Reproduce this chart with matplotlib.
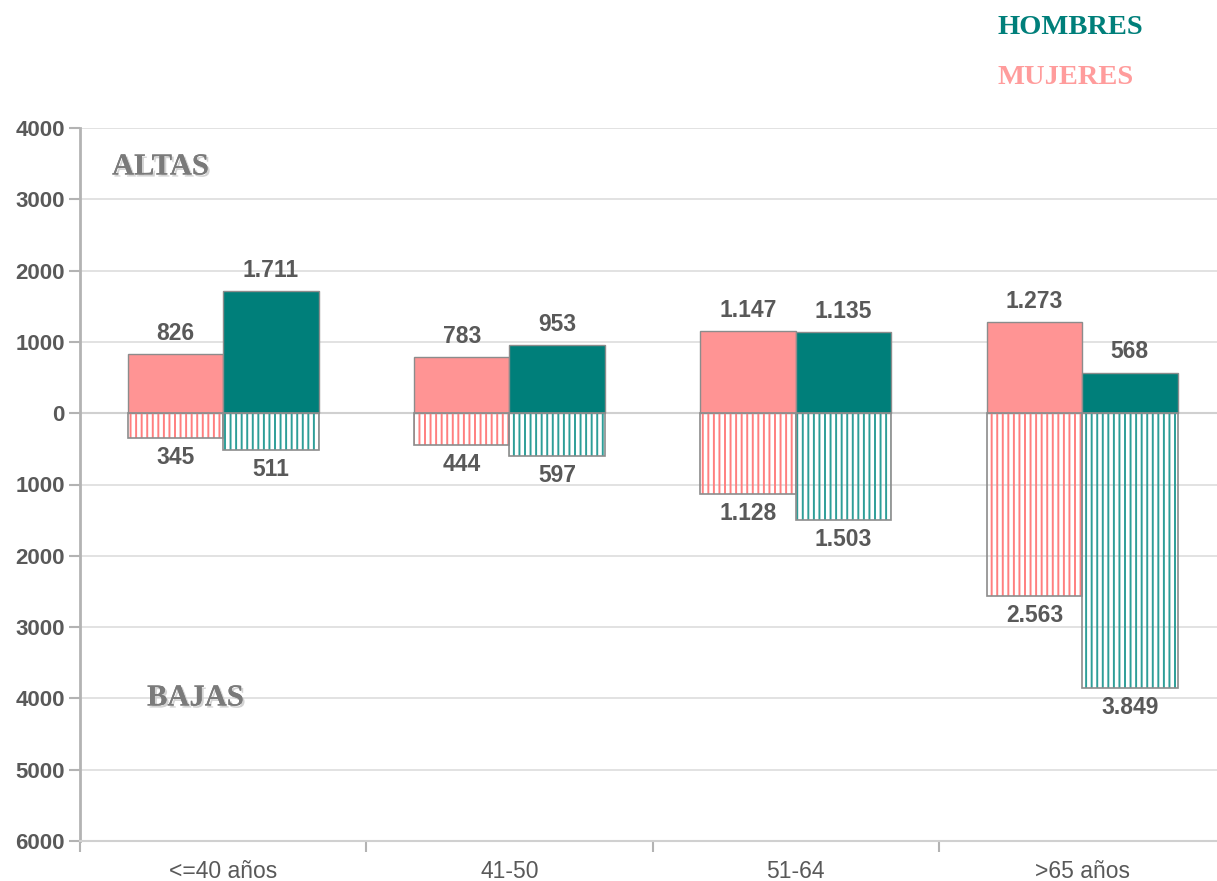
import numpy as np
import matplotlib.pyplot as plt
import matplotlib.patheffects as pe

# data
categories = ['<=40 años', '41-50', '51-64', '>65 años']
altas_mujeres = [826, 783, 1147, 1273]
altas_hombres = [1711, 953, 1135, 568]
bajas_mujeres = [345, 444, 1128, 2563]
bajas_hombres = [511, 597, 1503, 3849]
yticks = [4000, 3000, 2000, 1000, 0, -1000, -2000, -3000, -4000, -5000, -6000]

PINK = '#ff9494'
TEAL = '#007f7a'
GREY_TXT = '#595959'
plt.rcParams['hatch.linewidth'] = 1.4

def fmt(n):
	return '{:,}'.format(n).replace(',', '.')

fig = plt.figure(figsize=(12.17, 8.81), dpi=100)
ax = fig.add_axes([80/1217, 40/881, (1217-80)/1217, (841-128)/881])

x = np.arange(len(categories))
w = 1/3.

# altas (solid)
ax.bar(x - w/2, altas_mujeres, w, color=PINK, edgecolor='#8c8c8c', linewidth=1, zorder=3)
ax.bar(x + w/2, altas_hombres, w, color=TEAL, edgecolor='#8c8c8c', linewidth=1, zorder=3)

# bajas (hatched, transparent)
neg_m = [-v for v in bajas_mujeres]
neg_h = [-v for v in bajas_hombres]
ax.bar(x - w/2, neg_m, w, fill=False, hatch='|||', edgecolor='#ff7f7f', linewidth=0, zorder=3)
ax.bar(x + w/2, neg_h, w, fill=False, hatch='|||', edgecolor='#2e9e98', linewidth=0, zorder=3)
ax.bar(x - w/2, neg_m, w, fill=False, edgecolor='#8c8c8c', linewidth=1.2, zorder=4)
ax.bar(x + w/2, neg_h, w, fill=False, edgecolor='#8c8c8c', linewidth=1.2, zorder=4)

# value labels
lbl = dict(ha='center', va='center', fontsize=16.5, fontweight='bold', color=GREY_TXT,
	family='Liberation Sans', textcoords='offset points')
for i in range(len(categories)):
	ax.annotate(fmt(altas_mujeres[i]), (x[i] - w/2, altas_mujeres[i]), xytext=(0, 15), **lbl)
	ax.annotate(fmt(altas_hombres[i]), (x[i] + w/2, altas_hombres[i]), xytext=(0, 15), **lbl)
	ax.annotate(fmt(bajas_mujeres[i]), (x[i] - w/2, -bajas_mujeres[i]), xytext=(0, -14), **lbl)
	ax.annotate(fmt(bajas_hombres[i]), (x[i] + w/2, -bajas_hombres[i]), xytext=(0, -14), **lbl)

ax.set_yticks(yticks)
ax.set_yticklabels([str(abs(t)) for t in yticks], fontsize=16, fontweight='bold',
	color=GREY_TXT, family='Liberation Sans')
ax.set_xticks(x)
ax.set_xticklabels(categories, fontsize=16.5, color=GREY_TXT, family='Liberation Sans')
ax.set_xticks(np.arange(len(categories) + 1) - 0.5, minor=True)
ax.set_ylim(-6000, 4000)
ax.set_xlim(-0.5, 3.471)
ax.tick_params(axis='x', which='major', length=0, pad=14)
ax.tick_params(axis='x', which='minor', length=8, color='#b3b3b3', width=1.5)
ax.tick_params(axis='y', length=8, color='#b3b3b3', width=1.5, pad=3)

ax.grid(axis='y', color='#dddddd', linewidth=1.2, zorder=0)
ax.set_axisbelow(True)
for s in ['top', 'right']:
	ax.spines[s].set_visible(False)
ax.spines['left'].set_color('#b3b3b3')
ax.spines['left'].set_linewidth(2)
ax.spines['bottom'].set_color('#d0d0d0')
ax.spines['bottom'].set_linewidth(1.5)
ax.axhline(0, color='#d0d0d0', linewidth=1.5, zorder=1)

shadow = [pe.withSimplePatchShadow(offset=(1.5, -1.5), shadow_rgbFace='#c8c8c8', alpha=0.8), pe.Normal()]
fig.text(112/1217, 1 - 167/881, 'ALTAS', fontsize=22, fontweight='bold',
	color='#7a7a7a', family='Liberation Serif', va='center', path_effects=shadow)
fig.text(147/1217, 1 - 698/881, 'BAJAS', fontsize=22, fontweight='bold',
	color='#7a7a7a', family='Liberation Serif', va='center', path_effects=shadow)
fig.text(997/1217, 1 - 27/881, 'HOMBRES', fontsize=20.5, fontweight='bold',
	color=TEAL, family='Liberation Serif', va='center')
fig.text(997/1217, 1 - 77/881, 'MUJERES', fontsize=20.5, fontweight='bold',
	color='#ff9c9c', family='Liberation Serif', va='center')

plt.savefig('out.png', dpi=100)
